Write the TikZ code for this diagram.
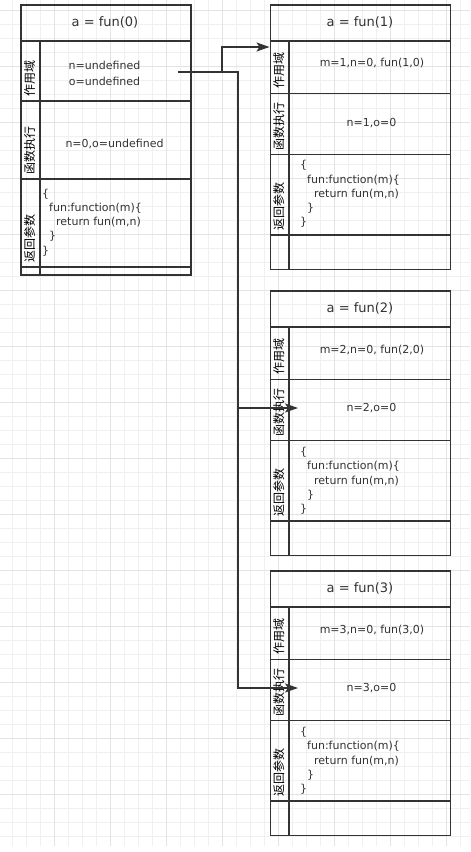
\documentclass[tikz,border=0pt]{standalone}
\usepackage{fontspec}
\setmainfont{DejaVu Sans}
\newfontfamily\cjkfont{Noto Sans CJK SC}
\usetikzlibrary{arrows.meta}
\definecolor{linecol}{HTML}{333333}
\definecolor{txtcol}{HTML}{333333}
\definecolor{gminor}{HTML}{F0F0F0}
\definecolor{gmajor}{HTML}{E3E3E3}
\newcommand\tabcell[5]{%
  \pgfmathsetmacro\cw{#4-#2}\pgfmathsetmacro\ch{#5-#3}%
  \node[cellbox, minimum width=\cw pt, minimum height=\ch pt] (#1) at (#2,#3) {};}
\tikzset{
  cellbox/.style={draw=linecol, line width=1.8pt, anchor=north west, inner sep=0pt, fill=none},
  gmin/.style={draw=gminor, line width=1pt},
  gmaj/.style={draw=gmajor, line width=1pt},
  ttl/.style={inner sep=0pt, text=txtcol, font=\fontsize{13}{16}\selectfont},
  txt/.style={inner sep=0pt, text=txtcol, align=center, font=\fontsize{11}{15.3}\selectfont},
  codetxt/.style={inner sep=0pt, text=txtcol, align=left, anchor=west, font=\fontsize{11}{14.2}\selectfont},
  lbl/.style={inner sep=0pt, rotate=90, anchor=west, text=black, font=\cjkfont\fontsize{12}{12}\selectfont},
  conn/.style={draw=linecol, line width=1.6pt, -{Stealth[length=13pt,width=9pt,inset=3pt]}}
}
\begin{document}
\begin{tikzpicture}[x=1pt,y=-1pt]
\fill[white] (0,0) rectangle (471,852);
\useasboundingbox (0,0) rectangle (471,852);
% grid
\foreach \i in {1,...,33} \draw[gmin] ({-1.7+14*\i},0) -- ({-1.7+14*\i},846);
\foreach \j in {0,...,59} \draw[gmin] (0,{10+14*\j}) -- (470,{10+14*\j});
\foreach \k in {0,...,7} \draw[gmaj] ({54.3+56*\k},0) -- ({54.3+56*\k},846);
\foreach \k in {0,...,14} \draw[gmaj] (0,{10+56*\k}) -- (470,{10+56*\k});
% table 0
\tabcell{t0t}{20}{4}{190}{40}
\tabcell{t0la}{20}{40}{39}{100}
\tabcell{t0lb}{20}{100}{39}{178}
\tabcell{t0lc}{20}{178}{39}{266}
\tabcell{t0ld}{20}{266}{39}{274}
\tabcell{t0ca}{39}{40}{190}{100}
\tabcell{t0cb}{39}{100}{190}{178}
\tabcell{t0cc}{39}{178}{190}{266}
\tabcell{t0cd}{39}{266}{190}{274}
\node[ttl] (t0title) at (105,22.5) {a = fun(0)};
\node[lbl] (t0l1) at (29.5,97) {作用域};
\node[lbl] (t0l2) at (29.5,175) {函数执行};
\node[lbl] (t0l3) at (29.5,263) {返回参数};
\node[txt] (t0s) at (104.5,73.3) {n=undefined\\o=undefined};
\node[txt] (t0e) at (114.5,144) {n=0,o=undefined};
\node[codetxt] (t0r) at (42,222.5) {\{\\\hspace*{7pt}fun:function(m)\{\\\hspace*{14pt}return fun(m,n)\\\hspace*{7pt}\}\\\}};
% table 1
\tabcell{t1t}{269.5}{4}{449.5}{40}
\tabcell{t1la}{269.5}{40}{288}{92.5}
\tabcell{t1lb}{269.5}{92.5}{288}{153.5}
\tabcell{t1lc}{269.5}{153.5}{288}{234}
\tabcell{t1ld}{269.5}{234}{288}{268.5}
\tabcell{t1ca}{288}{40}{449.5}{92.5}
\tabcell{t1cb}{288}{92.5}{449.5}{153.5}
\tabcell{t1cc}{288}{153.5}{449.5}{234}
\tabcell{t1cd}{288}{234}{449.5}{268.5}
\node[ttl] (t1title) at (360,22.3) {a = fun(1)};
\node[lbl] (t1l1) at (278.75,89) {作用域};
\node[lbl] (t1l2) at (278.75,150.5) {函数执行};
\node[lbl] (t1l3) at (278.75,231) {返回参数};
\node[txt] (t1s) at (372,63.3) {m=1,n=0, fun(1,0)};
\node[txt] (t1e) at (371.5,123.3) {n=1,o=0};
\node[codetxt] (t1r) at (300,194) {\{\\\hspace*{7pt}fun:function(m)\{\\\hspace*{14pt}return fun(m,n)\\\hspace*{7pt}\}\\\}};
% table 2
\tabcell{t2t}{269.5}{290}{449.5}{326}
\tabcell{t2la}{269.5}{326}{288}{378.5}
\tabcell{t2lb}{269.5}{378.5}{288}{439.5}
\tabcell{t2lc}{269.5}{439.5}{288}{520}
\tabcell{t2ld}{269.5}{520}{288}{554.5}
\tabcell{t2ca}{288}{326}{449.5}{378.5}
\tabcell{t2cb}{288}{378.5}{449.5}{439.5}
\tabcell{t2cc}{288}{439.5}{449.5}{520}
\tabcell{t2cd}{288}{520}{449.5}{554.5}
\node[ttl] (t2title) at (360,308.3) {a = fun(2)};
\node[lbl] (t2l1) at (278.75,375) {作用域};
\node[lbl] (t2l2) at (278.75,436.5) {函数执行};
\node[lbl] (t2l3) at (278.75,517) {返回参数};
\node[txt] (t2s) at (372,350) {m=2,n=0, fun(2,0)};
\node[txt] (t2e) at (371.5,408.3) {n=2,o=0};
\node[codetxt] (t2r) at (300,480.8) {\{\\\hspace*{7pt}fun:function(m)\{\\\hspace*{14pt}return fun(m,n)\\\hspace*{7pt}\}\\\}};
% table 3
\tabcell{t3t}{269.5}{570}{449.5}{606}
\tabcell{t3la}{269.5}{606}{288}{658.5}
\tabcell{t3lb}{269.5}{658.5}{288}{719.5}
\tabcell{t3lc}{269.5}{719.5}{288}{800}
\tabcell{t3ld}{269.5}{800}{288}{834.5}
\tabcell{t3ca}{288}{606}{449.5}{658.5}
\tabcell{t3cb}{288}{658.5}{449.5}{719.5}
\tabcell{t3cc}{288}{719.5}{449.5}{800}
\tabcell{t3cd}{288}{800}{449.5}{834.5}
\node[ttl] (t3title) at (360,588.3) {a = fun(3)};
\node[lbl] (t3l1) at (278.75,655) {作用域};
\node[lbl] (t3l2) at (278.75,716.5) {函数执行};
\node[lbl] (t3l3) at (278.75,797) {返回参数};
\node[txt] (t3s) at (372,630) {m=3,n=0, fun(3,0)};
\node[txt] (t3e) at (371.5,688.3) {n=3,o=0};
\node[codetxt] (t3r) at (300,760.8) {\{\\\hspace*{7pt}fun:function(m)\{\\\hspace*{14pt}return fun(m,n)\\\hspace*{7pt}\}\\\}};
% connectors
\coordinate (src) at (178,72);
\coordinate (b1) at (222,72);
\coordinate (b2) at (238,72);
\coordinate (e1) at (269.5,47);
\coordinate (e2) at (298,408);
\coordinate (e3) at (298,688);
\draw[conn] (src) -- (b1) |- (e1);
\draw[conn] (src) -- (b2) |- (e2);
\draw[conn] (src) -- (b2) |- (e3);
\end{tikzpicture}
\end{document}
